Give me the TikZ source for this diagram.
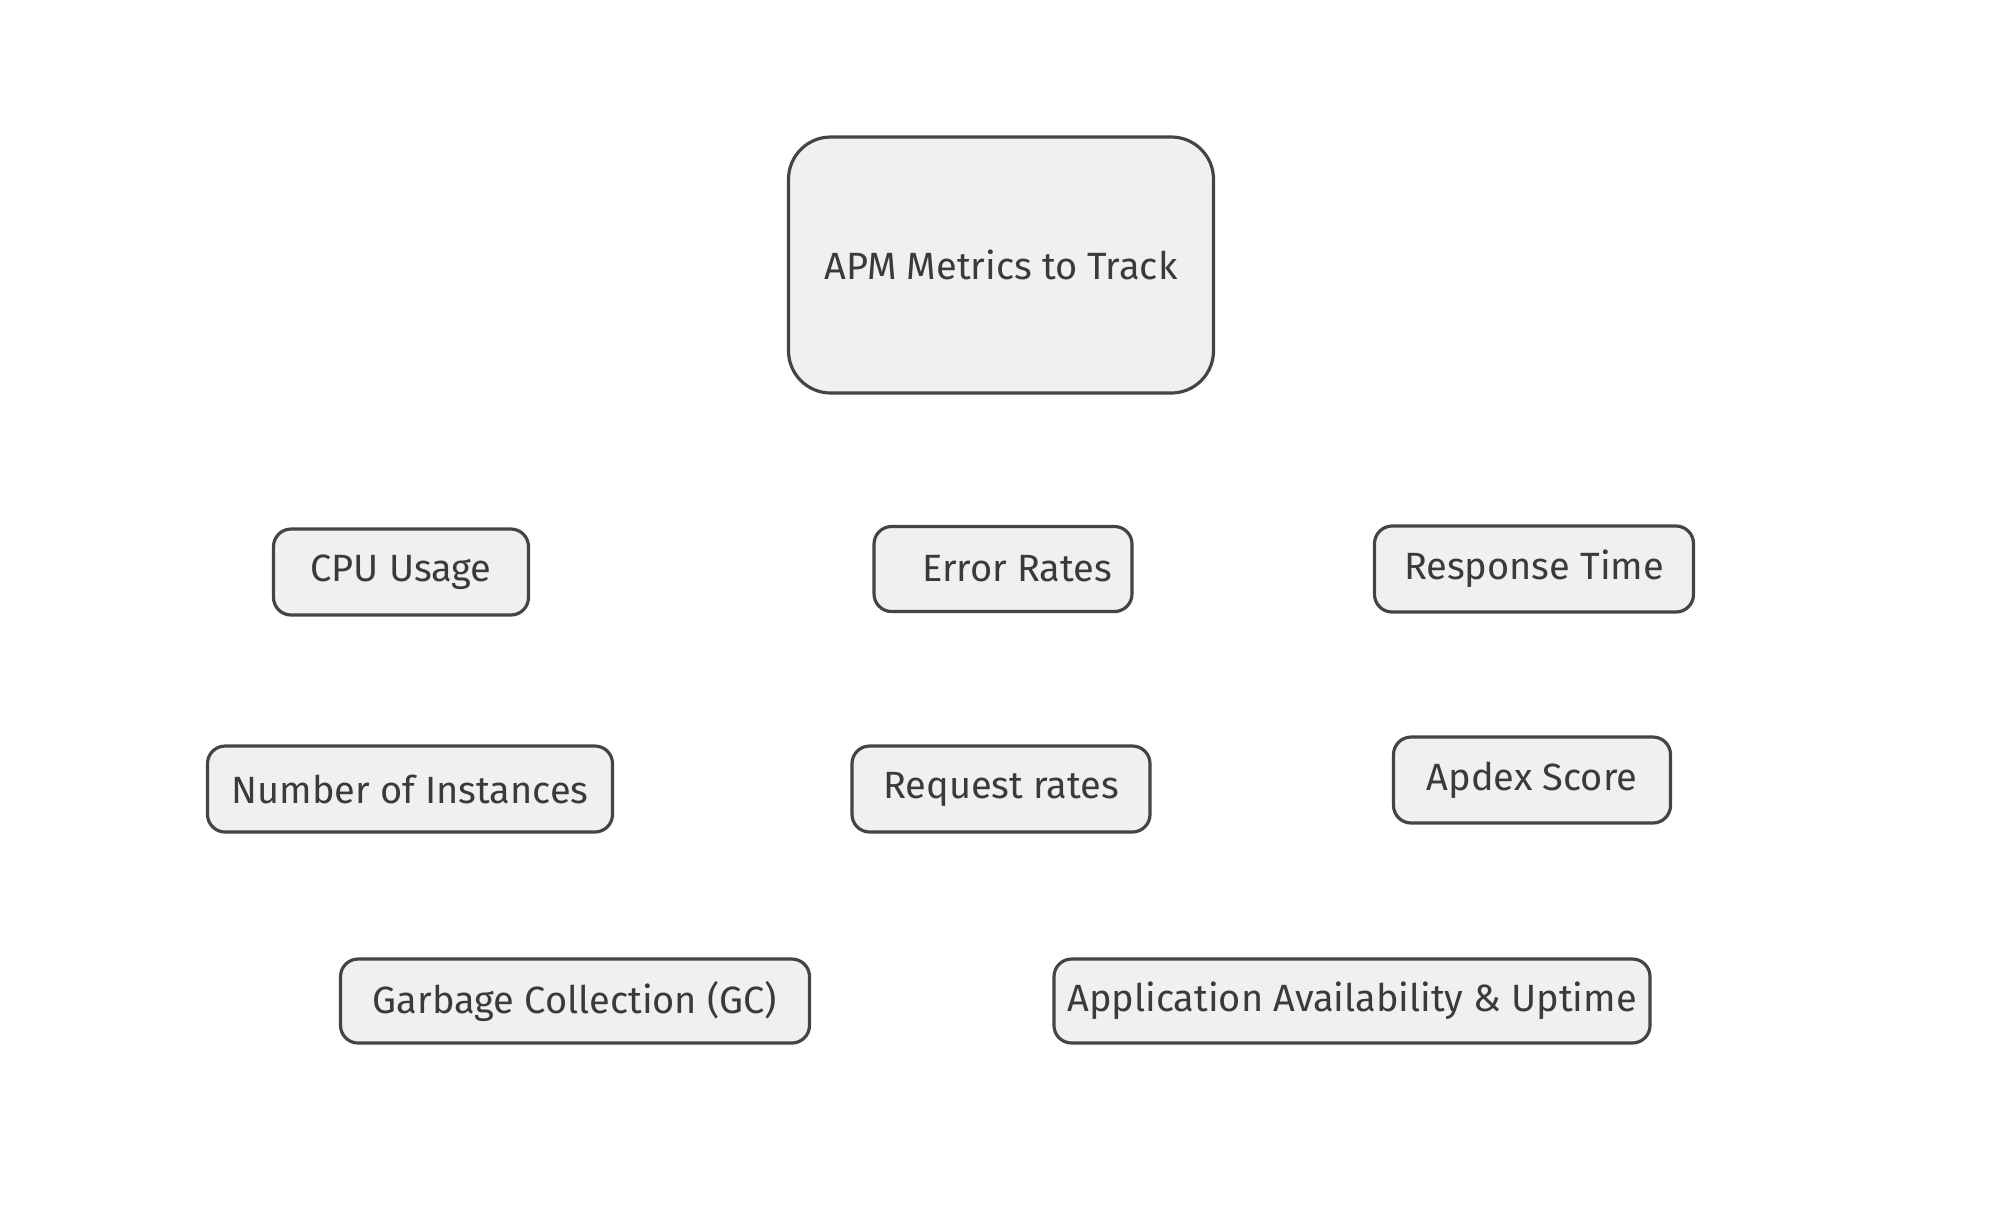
\documentclass[tikz,border=0pt]{standalone}
\usepackage{fontspec}
\setmainfont{Fira Sans}
\definecolor{edge}{HTML}{444444}
\definecolor{boxfill}{HTML}{F0F0F0}
\definecolor{ink}{HTML}{3A3A3A}
\begin{document}
\begin{tikzpicture}[x=0.01cm,y=-0.01cm,
  metric/.style={draw=edge, fill=boxfill, line width=0.9pt, rounded corners=5pt,
    text=ink, font=\fontsize{10.8}{13}\selectfont, inner sep=0pt, align=center},
  hub/.style={metric, rounded corners=12pt}]
\useasboundingbox (0,0) rectangle (2000,1223);
\fill[white] (0,0) rectangle (2000,1223);
\node[hub, minimum width=425*0.01cm, minimum height=256*0.01cm] (apm) at (1001,265) {APM Metrics to Track};
\node[metric, minimum width=255*0.01cm, minimum height=86*0.01cm] (cpu) at (401,572) {CPU Usage};
\node[metric, minimum width=258*0.01cm, minimum height=85*0.01cm] (err) at (1003,569) {\hspace{8pt}Error Rates};
\node[metric, minimum width=319*0.01cm, minimum height=86*0.01cm] (resp) at (1534,569) {Response Time};
\node[metric, minimum width=405*0.01cm, minimum height=86*0.01cm] (inst) at (410,789) {Number of Instances};
\node[metric, minimum width=298*0.01cm, minimum height=86*0.01cm] (req) at (1001,789) {Request rates};
\node[metric, minimum width=277*0.01cm, minimum height=86*0.01cm] (apdex) at (1532,780) {Apdex Score};
\node[metric, minimum width=469*0.01cm, minimum height=84*0.01cm] (gc) at (575,1001) {Garbage Collection (GC)};
\node[metric, minimum width=596*0.01cm, minimum height=84*0.01cm] (app) at (1352,1001) {Application Availability \& Uptime};
\end{tikzpicture}
\end{document}
